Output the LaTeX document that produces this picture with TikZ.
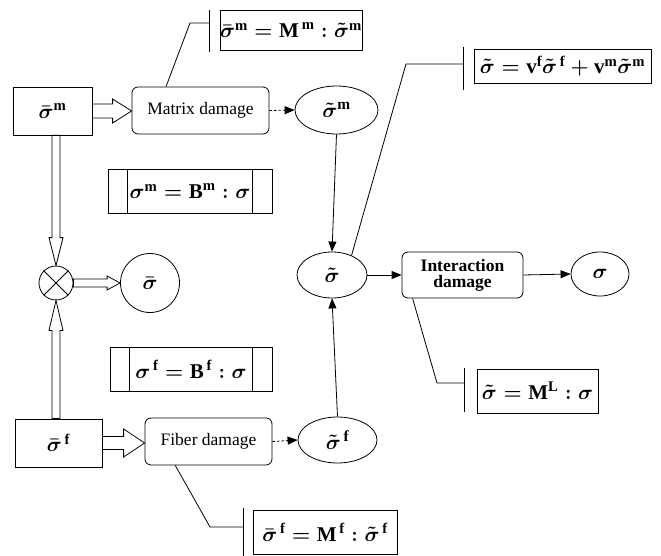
\documentclass[tikz,border=0pt]{standalone}
\usepackage{fontspec}
\setmainfont{Liberation Serif}
\usepackage{amsmath}
\usetikzlibrary{calc,arrows.meta,shapes.geometric}

% hollow block arrow: start, end, shaft half width, head half width, head length
\newcommand{\hollowarrow}[5]{%
  \coordinate (ha) at ($(#2)!#5!(#1)$);
  \draw[fill=white] ($(#1)!#3!90:(#2)$) -- ($(ha)!#3!90:(#2)$)
    -- ($(ha)!#4!90:(#2)$) -- (#2) -- ($(ha)!#4!-90:(#2)$)
    -- ($(ha)!#3!-90:(#2)$) -- ($(#1)!#3!-90:(#2)$) -- cycle;}
\newcommand{\tb}[1]{\textbf{#1}}

\begin{document}
\begin{tikzpicture}[x=1pt, y=-1pt, line width=0.8pt,
  >={Triangle[length=10pt, width=8pt]},
  box/.style={draw, rectangle, inner sep=0pt, font=\fontsize{21}{24}\selectfont\boldmath},
  rbox/.style={draw, rectangle, rounded corners=6pt, inner sep=0pt, align=center, font=\fontsize{17.5}{19}\selectfont},
  oval/.style={draw, ellipse, inner sep=0pt, font=\fontsize{22}{24}\selectfont\boldmath},
  eqn/.style={draw, rectangle, inner sep=0pt, font=\fontsize{21}{24}\selectfont\boldmath},
  dotarrow/.style={->, dash pattern=on 2.5pt off 2pt}]
\useasboundingbox (0,0) rectangle (661,556);

% left column
\node[box, minimum width=79pt, minimum height=48pt] (sm) at (52.5,111) {$\bar{\sigma}^{\tb{m}}$};
\node[box, minimum width=87pt, minimum height=48pt] (sf) at (58.5,443) {$\bar{\sigma}^{\,\tb{f}}$};
\node[draw, circle, minimum size=34pt, inner sep=0pt] (ot) at (56,283) {};
\draw (ot.north west) -- (ot.south east) (ot.north east) -- (ot.south west);
\node[oval, circle, minimum size=59pt] (sb) at (150,283) {$\bar{\sigma}$};

% damage boxes
\node[rbox, minimum width=137pt, minimum height=47pt] (md) at (200.5,110.5) {Matrix damage};
\node[rbox, minimum width=127pt, minimum height=47pt] (fd) at (208.5,441.5) {Fiber damage};
\node[rbox, minimum width=121pt, minimum height=46pt, font=\fontsize{17.5}{19}\selectfont\bfseries] (id) at (462.5,275) {Interaction\\[-3pt]damage};

% ovals
\node[oval, minimum width=83pt, minimum height=48pt] (tm) at (336.5,110) {$\tilde{\sigma}^{\tb{m}}$};
\node[oval, minimum width=79pt, minimum height=46pt] (tf) at (337.5,440) {$\tilde{\sigma}^{\,\tb{f}}$};
\node[oval, minimum width=70pt, minimum height=46pt] (ts) at (332,275) {$\tilde{\sigma}$};
\node[oval, minimum width=58pt, minimum height=44pt] (s) at (600,274) {$\sigma$};

% B boxes
\node[eqn, minimum width=164pt, minimum height=44pt] (bm) at (190,191) {$\sigma^{\tb{m}} = \tb{B}^{\tb{m}} : \sigma$};
\node[eqn, minimum width=162pt, minimum height=44pt] (bf) at (191,369) {$\sigma^{\,\tb{f}} = \tb{B}^{\,\tb{f}} : \sigma$};
\draw ($(bm.north west)+(20,0)$) -- ($(bm.south west)+(20,0)$);
\draw ($(bm.north east)+(-20,0)$) -- ($(bm.south east)+(-20,0)$);
\draw ($(bf.north west)+(20,0)$) -- ($(bf.south west)+(20,0)$);
\draw ($(bf.north east)+(-20,0)$) -- ($(bf.south east)+(-20,0)$);

% callouts
\node[eqn, minimum width=137pt, minimum height=40pt] (c1) at (291,30) {$\bar{\sigma}^{\tb{m}} = \tb{M}^{\,\tb{m}} : \tilde{\sigma}^{\tb{m}}$};
\node[eqn, minimum width=177pt, minimum height=34pt] (c2) at (562.5,66) {$\tilde{\sigma} = \tb{v}^{\tb{f}}\tilde{\sigma}^{\,\tb{f}} + \tb{v}^{\tb{m}}\tilde{\sigma}^{\tb{m}}$};
\node[eqn, minimum width=121pt, minimum height=44pt] (c3) at (537.5,391) {$\tilde{\sigma} = \tb{M}^{\tb{L}} : \sigma$};
\node[eqn, minimum width=144pt, minimum height=44pt] (c4) at (325,532) {$\bar{\sigma}^{\,\tb{f}} = \tb{M}^{\,\tb{f}} : \tilde{\sigma}^{\,\tb{f}}$};

\coordinate (c1b) at ($(c1.west)+(-10,0)$);
\coordinate (c2b) at ($(c2.west)+(-10,0)$);
\coordinate (c3b) at ($(c3.west)+(-12,0)$);
\coordinate (c4b) at ($(c4.west)+(-9,0)$);
\draw ($(c1b)+(0,-20)$) -- ($(c1b)+(0,22)$);
\draw ($(c2b)+(0,-19)$) -- ($(c2b)+(0,24)$);
\draw ($(c3b)+(0,-23)$) -- ($(c3b)+(0,21)$);
\draw ($(c4b)+(0,-24)$) -- ($(c4b)+(0,24)$);

\coordinate (k1) at (190,23);
\coordinate (k2) at (406,64);
\coordinate (k3) at (437,383);
\coordinate (k4) at (210,527);
\draw ($(md.north west)!.25!(md.north east)$) -- (k1) -- (k1 -| c1b);
\draw (ts.45) -- (k2) -- (k2 -| c2b);
\draw ($(id.south west)!.09!(id.south east)$) -- (k3) -- (k3 -| c3b);
\draw ($(fd.south west)!.24!(fd.south east)$) -- (k4) -- (k4 -| c4b);

% block arrows
\coordinate (p1) at (sm.east -| md.west);
\coordinate (p2) at (sf.east -| fd.west);
\coordinate (p3) at (sm.south -| ot);
\coordinate (p4) at (sf.north -| ot);
\hollowarrow{sm.east}{p1}{7pt}{12pt}{19pt}
\hollowarrow{sf.east}{p2}{6.5pt}{14pt}{21pt}
\hollowarrow{p3}{ot.north}{4pt}{7pt}{28pt}
\hollowarrow{p4}{ot.south}{4pt}{7pt}{30pt}
\hollowarrow{ot.east}{sb.west}{4pt}{7pt}{13pt}

% arrows
\draw[dotarrow] (md.east) -- (tm.west);
\draw[dotarrow] (fd.east) -- (tf.west);
\draw[->] (tm.south) -- (ts.north);
\draw[->] (tf.north) -- (ts.south);
\draw[->] (ts.east) -- (id.west);
\draw[->] (id.east) -- (s.west);
\end{tikzpicture}
\end{document}
